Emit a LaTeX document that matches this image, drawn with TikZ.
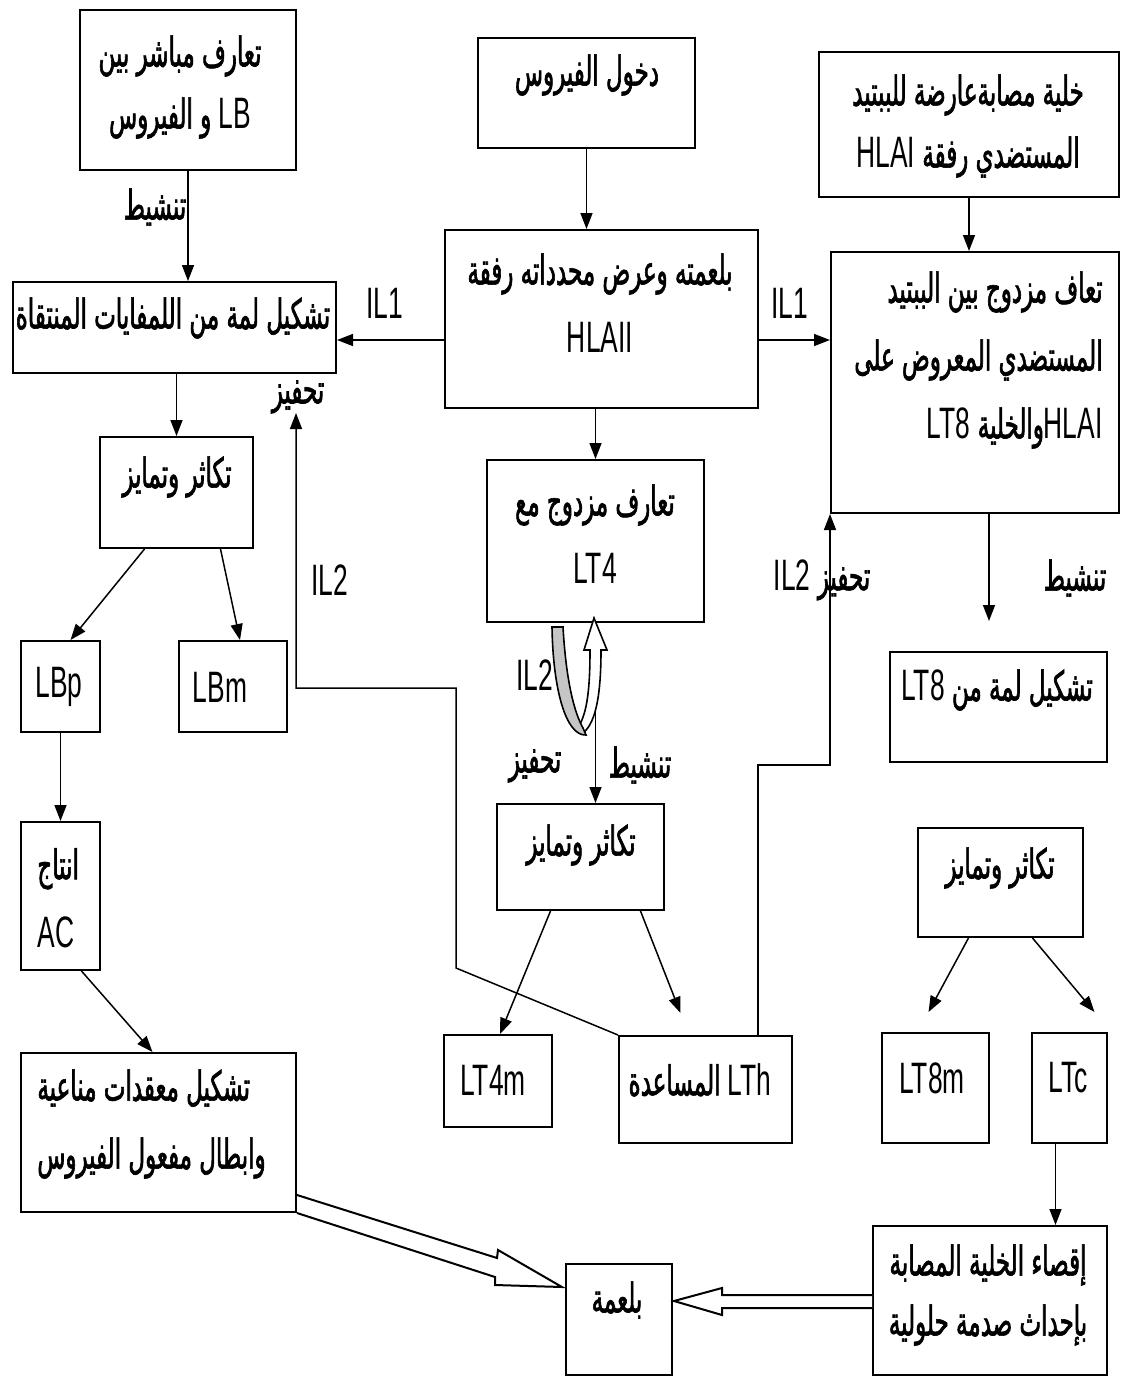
\documentclass[tikz,border=0pt]{standalone}
\usepackage{fontspec}
\usepackage{tikz}
\usetikzlibrary{arrows.meta,fit,calc}
\TeXXeTstate=1
\newfontfamily\arfont[Script=Arabic,FakeStretch=0.56,FakeBold=1.5]{DejaVu Sans}
\newfontfamily\latfont[FakeStretch=0.6]{Liberation Sans}
\newcommand{\ar}[1]{{\arfont\beginR #1\endR}}
\newcommand{\lt}[1]{{\latfont\fontsize{22}{34}\selectfont #1}}
\newcommand{\la}[1]{\beginL\lt{#1}\endL}

\tikzset{
  box/.style={draw, line width=1pt, inner sep=0pt},
  txt/.style={inner sep=0pt, font=\fontsize{20.5}{34}\selectfont},
  arr/.style={line width=0.75pt, -{Triangle[length=8pt,width=6pt]}},
  hollow/.style={line width=1pt, fill=white, line join=miter}
}

\begin{document}
\begin{tikzpicture}[x=0.5pt,y=-0.5pt]
\useasboundingbox (0,0) rectangle (1121,1377);

%boxes
\node[box, fit={(80,10) (296,170)}] (b1) {};
\node[box, fit={(478,38) (695,148)}] (b2) {};
\node[box, fit={(819,52) (1119,197)}] (b3) {};
\node[box, fit={(13,282) (336,373)}] (b4) {};
\node[box, fit={(445,230) (758,408)}] (b5) {};
\node[box, fit={(831,252) (1119,513)}] (b6) {};
\node[box, fit={(100,437) (253,548)}] (b7) {};
\node[box, fit={(487,460) (704,622)}] (b8) {};
\node[box, fit={(890,652) (1107,762)}] (b9) {};
\node[box, fit={(21,641) (100,732)}] (b10) {};
\node[box, fit={(179,641) (287,732)}] (b11) {};
\node[box, fit={(21,822) (100,970)}] (b12) {};
\node[box, fit={(497,804) (664,910)}] (b13) {};
\node[box, fit={(918,828) (1083,937)}] (b14) {};
\node[box, fit={(21,1053) (296,1212)}] (b15) {};
\node[box, fit={(444,1035) (552,1127)}] (b16) {};
\node[box, fit={(619,1036) (792,1143)}] (b17) {};
\node[box, fit={(882,1033) (989,1143)}] (b18) {};
\node[box, fit={(1032,1033) (1107,1143)}] (b19) {};
\node[box, fit={(873,1226) (1107,1375)}] (b20) {};
\node[box, fit={(566,1264) (672,1375)}] (b21) {};

%texts
\node[txt, align=center, font=\fontsize{20.5}{31}\selectfont] (t1) at (180,87) {\ar{تعارف مباشر بين}\\ \ar{\la{LB} و الفيروس}};
\node[txt] (t2) at (587,75) {\ar{دخول الفيروس}};
\node[txt, align=center, font=\fontsize{20.5}{31}\selectfont] (t3) at (968,126) {\ar{خلية مصابةعارضة للببتيد}\\ \ar{المستضدي رفقة \la{HLAI}}};
\node[txt] (t4) at (173,318) {\ar{تشكيل لمة من اللمفايات المنتقاة}};
\node[txt, align=center] (t5) at (600,303) {\ar{بلعمته وعرض محدداته رفقة}\\ \lt{HLAII}};
\node[txt, align=right, anchor=east] (t6) at (1103,360) {\ar{تعاف مزدوج بين الببتيد}\\ \ar{المستضدي المعروض على}\\ \ar{\la{HLAI}والخلية \la{LT8}}};
\node[txt] (t7) at (177,477) {\ar{تكاثر وتمايز}};
\node[txt, align=center] (t8) at (595,534) {\ar{تعارف مزدوج مع}\\ \lt{LT4}};
\node[txt] (t9) at (997,690) {\ar{تشكيل لمة من \la{LT8}}};
\node[txt] (t10) at (59,687) {\lt{LBp}};
\node[txt] (t11) at (220,687) {\lt{LBm}};
\node[txt, align=left, anchor=west] (t12) at (37,898) {\ar{انتاج}\\ \lt{AC}};
\node[txt] (t13) at (581,845) {\ar{تكاثر وتمايز}};
\node[txt] (t14) at (1000,868) {\ar{تكاثر وتمايز}};
\node[txt, align=left, anchor=west] (t15) at (37,1124) {\ar{تشكيل معقدات مناعية}\\ \ar{وابطال مفعول الفيروس}};
\node[txt] (t16) at (493,1080) {\lt{LT4m}};
\node[txt] (t17) at (700,1080) {\ar{\la{LTh} المساعدة}};
\node[txt] (t18) at (932,1078) {\lt{LT8m}};
\node[txt] (t19) at (1068,1078) {\lt{LTc}};
\node[txt, align=center, font=\fontsize{20.5}{30}\selectfont] (t20) at (988,1295) {\ar{إقصاء الخلية المصابة}\\ \ar{بإحداث صدمة حلولية}};
\node[txt] (t21) at (617,1300) {\ar{بلعمة}};

%labels
\node[txt] (l1) at (155,207) {\ar{تنشيط}};
\node[txt] (l2) at (385,303) {\lt{IL1}};
\node[txt] (l3) at (790,303) {\lt{IL1}};
\node[txt] (l4) at (298,397) {\ar{تحفيز}};
\node[txt] (l5) at (330,580) {\lt{IL2}};
\node[txt] (l6) at (535,675) {\lt{IL2}};
\node[txt] (l7) at (535,766) {\ar{تحفيز}};
\node[txt] (l8) at (640,765) {\ar{تنشيط}};
\node[txt] (l9) at (822,580) {\ar{تحفيز \la{IL2}}};
\node[txt] (l10) at (1075,578) {\ar{تنشيط}};

%arrows
\draw[arr] (b1.south) -- (b1.south |- b4.north);
\draw[arr] (b2.south) -- (b2.south |- b5.north);
\draw[arr] (b3.south) -- (b3.south |- b6.north);
\draw[arr] ($(b5.west)+(0,21)$) coordinate (p1) -- (b4.east |- p1);
\draw[arr] ($(b5.east)+(0,21)$) coordinate (p2) -- (b6.west |- p2);
\draw[arr] (b8.north |- b5.south) -- (b8.north);
\draw[arr] (b7.north |- b4.south) -- (b7.north);
\draw[arr] ($(b7.south)+(-32,0)$) -- ($(b10.north)+(10,0)$);
\draw[arr] ($(b7.south)+(44,0)$) -- ($(b11.north)+(7,0)$);
\draw[arr] (b10.south) -- (b12.north);
\draw[arr] ($(b12.south)+(21,0)$) -- ($(b15.north)+(-6,0)$);
\draw[arr] (b8.south) -- (b8.south |- b13.north);
\draw[arr] ($(b13.south)+(-30,0)$) -- ($(b16.north)+(2,0)$);
\draw[arr] ($(b13.south)+(60,0)$) -- ($(b17.north)+(-25,-22)$);
\draw[arr] ($(b14.south)+(-32,0)$) -- ($(b18.north)+(-7,-20)$);
\draw[arr] ($(b14.south)+(32,0)$) -- ($(b19.north)+(25,-20)$);
\draw[arr] ($(b19.south)+(-14,0)$) coordinate (p3) -- (p3 |- b20.north);
\draw[arr] ($(b6.south)+(14,0)$) coordinate (p4) -- ($(p4 |- b9.north)+(0,-30)$);
\coordinate (k1) at (758,765);
\draw[arr] (b17.north -| k1) -- (k1) -| (b6.south west);
\coordinate (k2) at (456,968);
\coordinate (k3) at (296,688);
\coordinate (k4) at (296,413);
\draw[arr] (b17.north west) -- (k2) |- (k3) -- (k4);

%IL2 loop
\draw[line width=0.8pt, fill=white] (583,733) .. controls (597,722) and (601,690) .. (601,650) -- (607,650) -- (594,618) -- (584,650) -- (590,650) .. controls (590,690) and (587,712) .. (579,726) -- cycle;
\draw[line width=0.8pt, fill=gray!45] (552,627) .. controls (553,690) and (566,736) .. (586,735) -- (583,728) .. controls (574,712) and (566,680) .. (563,627) -- cycle;

%hollow arrows
\draw[hollow] ($(b15.south east)+(0,-18)$) -- (497,1258) -- (498,1250) -- (562,1287) -- (495,1285) -- (495,1277) -- (b15.south east);
\draw[hollow] ($(b20.west)+(0,-5.5)$) -- (722,1295) -- (722,1288) -- (674,1301) -- (722,1315) -- (722,1308) -- ($(b20.west)+(0,7.5)$);

\end{tikzpicture}
\end{document}
